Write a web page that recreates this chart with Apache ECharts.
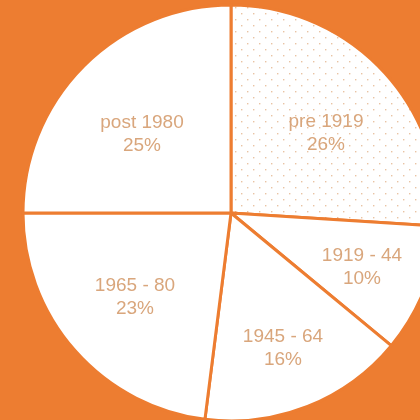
<!DOCTYPE html>
<html>
<head>
<meta charset="utf-8">
<script src="https://cdn.jsdelivr.net/npm/echarts@6/dist/echarts.min.js"></script>
<style>
  html, body { margin: 0; padding: 0; background: #ED7D31; }
  #main { width: 420px; height: 420px; }
</style>
</head>
<body>
<div id="main"></div>
<script>
  var categories = ['pre 1919', '1919 - 44', '1945 - 64', '1965 - 80', 'post 1980'];
  var shares = [26, 10, 16, 23, 25];

  // small dotted pattern for the first slice
  var dots = document.createElement('canvas');
  dots.width = 12;
  dots.height = 12;
  var ctx = dots.getContext('2d');
  ctx.fillStyle = '#ffffff';
  ctx.fillRect(0, 0, 12, 12);
  ctx.fillStyle = '#E9C3A3';
  ctx.fillRect(1, 1, 1.4, 1.4);
  ctx.fillRect(7, 7, 1.4, 1.4);

  var cx = 231, cy = 213;
  // where each label block sits, relative to the pie centre
  var labelOffset = [[95, -80], [131, 54], [52, 135], [-96, 84], [-89, -79]];

  var data = [];
  for (var i = 0; i < categories.length; i++) {
    data.push({
      name: categories[i],
      value: shares[i],
      itemStyle: i === 0 ? { color: { image: dots, repeat: 'repeat' } } : { color: '#ffffff' }
    });
  }

  var chart = echarts.init(document.getElementById('main'));
  chart.setOption({
    backgroundColor: '#ED7D31',
    animation: false,
    series: [{
      type: 'pie',
      center: [cx, cy],
      radius: [0, 208],
      startAngle: 90,
      clockwise: true,
      itemStyle: {
        borderColor: '#ED7D31',
        borderWidth: 3
      },
      label: {
        position: 'inside',
        formatter: function (p) {
          return p.name + '\n' + p.value + '%';
        },
        color: '#D9A67C',
        fontFamily: 'Liberation Sans, Arial, sans-serif',
        fontSize: 19,
        lineHeight: 23
      },
      labelLine: { show: false },
      labelLayout: function (params) {
        var r = params.labelRect;
        var o = labelOffset[params.dataIndex];
        return {
          dx: cx + o[0] - (r.x + r.width / 2),
          dy: cy + o[1] - (r.y + r.height / 2)
        };
      },
      data: data
    }]
  });
</script>
</body>
</html>
